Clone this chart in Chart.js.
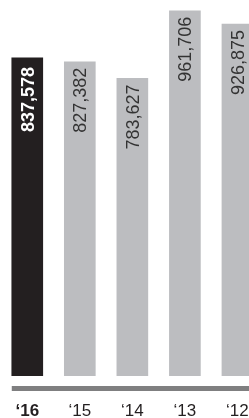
<!DOCTYPE html>
<html>
<head>
<meta charset="utf-8">
<script src="https://cdn.jsdelivr.net/npm/chart.js@4/dist/chart.umd.min.js"></script>
<style>
  html, body { margin: 0; padding: 0; background: #fff; overflow: hidden; }
</style>
</head>
<body>
<canvas id="chart" width="249" height="418"></canvas>
<script>
const years = ['\u201816', '\u201815', '\u201814', '\u201813', '\u201812'];
const values = [837578, 827382, 783627, 961706, 926875];
const barColors = ['#231f20', '#bcbdc0', '#bcbdc0', '#bcbdc0', '#bcbdc0'];
const labelColors = ['#ffffff', '#333333', '#333333', '#333333', '#333333'];

const fontFamily = '"Liberation Sans", Arial, Helvetica, sans-serif';

// value labels, rotated, sitting just under the top of each bar
const barLabels = {
  id: 'barLabels',
  afterDatasetsDraw(chart) {
    const ctx = chart.ctx;
    const meta = chart.getDatasetMeta(0);
    meta.data.forEach((bar, i) => {
      ctx.save();
      ctx.translate(bar.x + 6.5, bar.y + (i === 0 ? 9 : 6));
      ctx.rotate(-Math.PI / 2);
      ctx.font = (i === 0 ? 'bold ' : '') + '18px ' + fontFamily;
      ctx.fillStyle = labelColors[i];
      ctx.textAlign = 'right';
      ctx.textBaseline = 'alphabetic';
      ctx.fillText(values[i].toLocaleString('en-US'), 0, 0);
      ctx.restore();
    });
  }
};

// thick grey rule between the bars and the year labels
const baseRule = {
  id: 'baseRule',
  afterDraw(chart) {
    const ctx = chart.ctx;
    const first = chart.getDatasetMeta(0).data[0];
    const y = chart.chartArea.bottom + 10;
    ctx.save();
    ctx.fillStyle = '#7f7f80';
    ctx.fillRect(first.x - first.width / 2, y, chart.width, 5);
    ctx.restore();
  }
};

new Chart(document.getElementById('chart'), {
  type: 'bar',
  data: {
    datasets: [{
      data: values.map((v, i) => ({ x: i, y: v })),
      backgroundColor: barColors,
      borderWidth: 0,
      barThickness: 31
    }]
  },
  options: {
    responsive: false,
    animation: false,
    layout: { padding: { left: 1, right: 0, top: 0, bottom: 0 } },
    plugins: { legend: { display: false }, tooltip: { enabled: false } },
    scales: {
      y: {
        display: false,
        min: 0,
        max: 990000
      },
      x: {
        type: 'linear',
        offset: false,
        min: -0.5,
        max: 4.22,
        grid: { display: false, drawTicks: true, tickLength: 25 },
        border: { display: false },
        afterBuildTicks(scale) {
          scale.ticks = years.map((y, i) => ({ value: i }));
        },
        ticks: {
          color: '#231f20',
          padding: 0,
          maxRotation: 0,
          autoSkip: false,
          callback: (v) => years[v],
          font: (c) => ({ family: fontFamily, size: 17, weight: c.index === 0 ? 'bold' : 'normal' })
        },
        afterFit(scale) { scale.height = 42; }
      }
    }
  },
  plugins: [barLabels, baseRule]
});
</script>
</body>
</html>
